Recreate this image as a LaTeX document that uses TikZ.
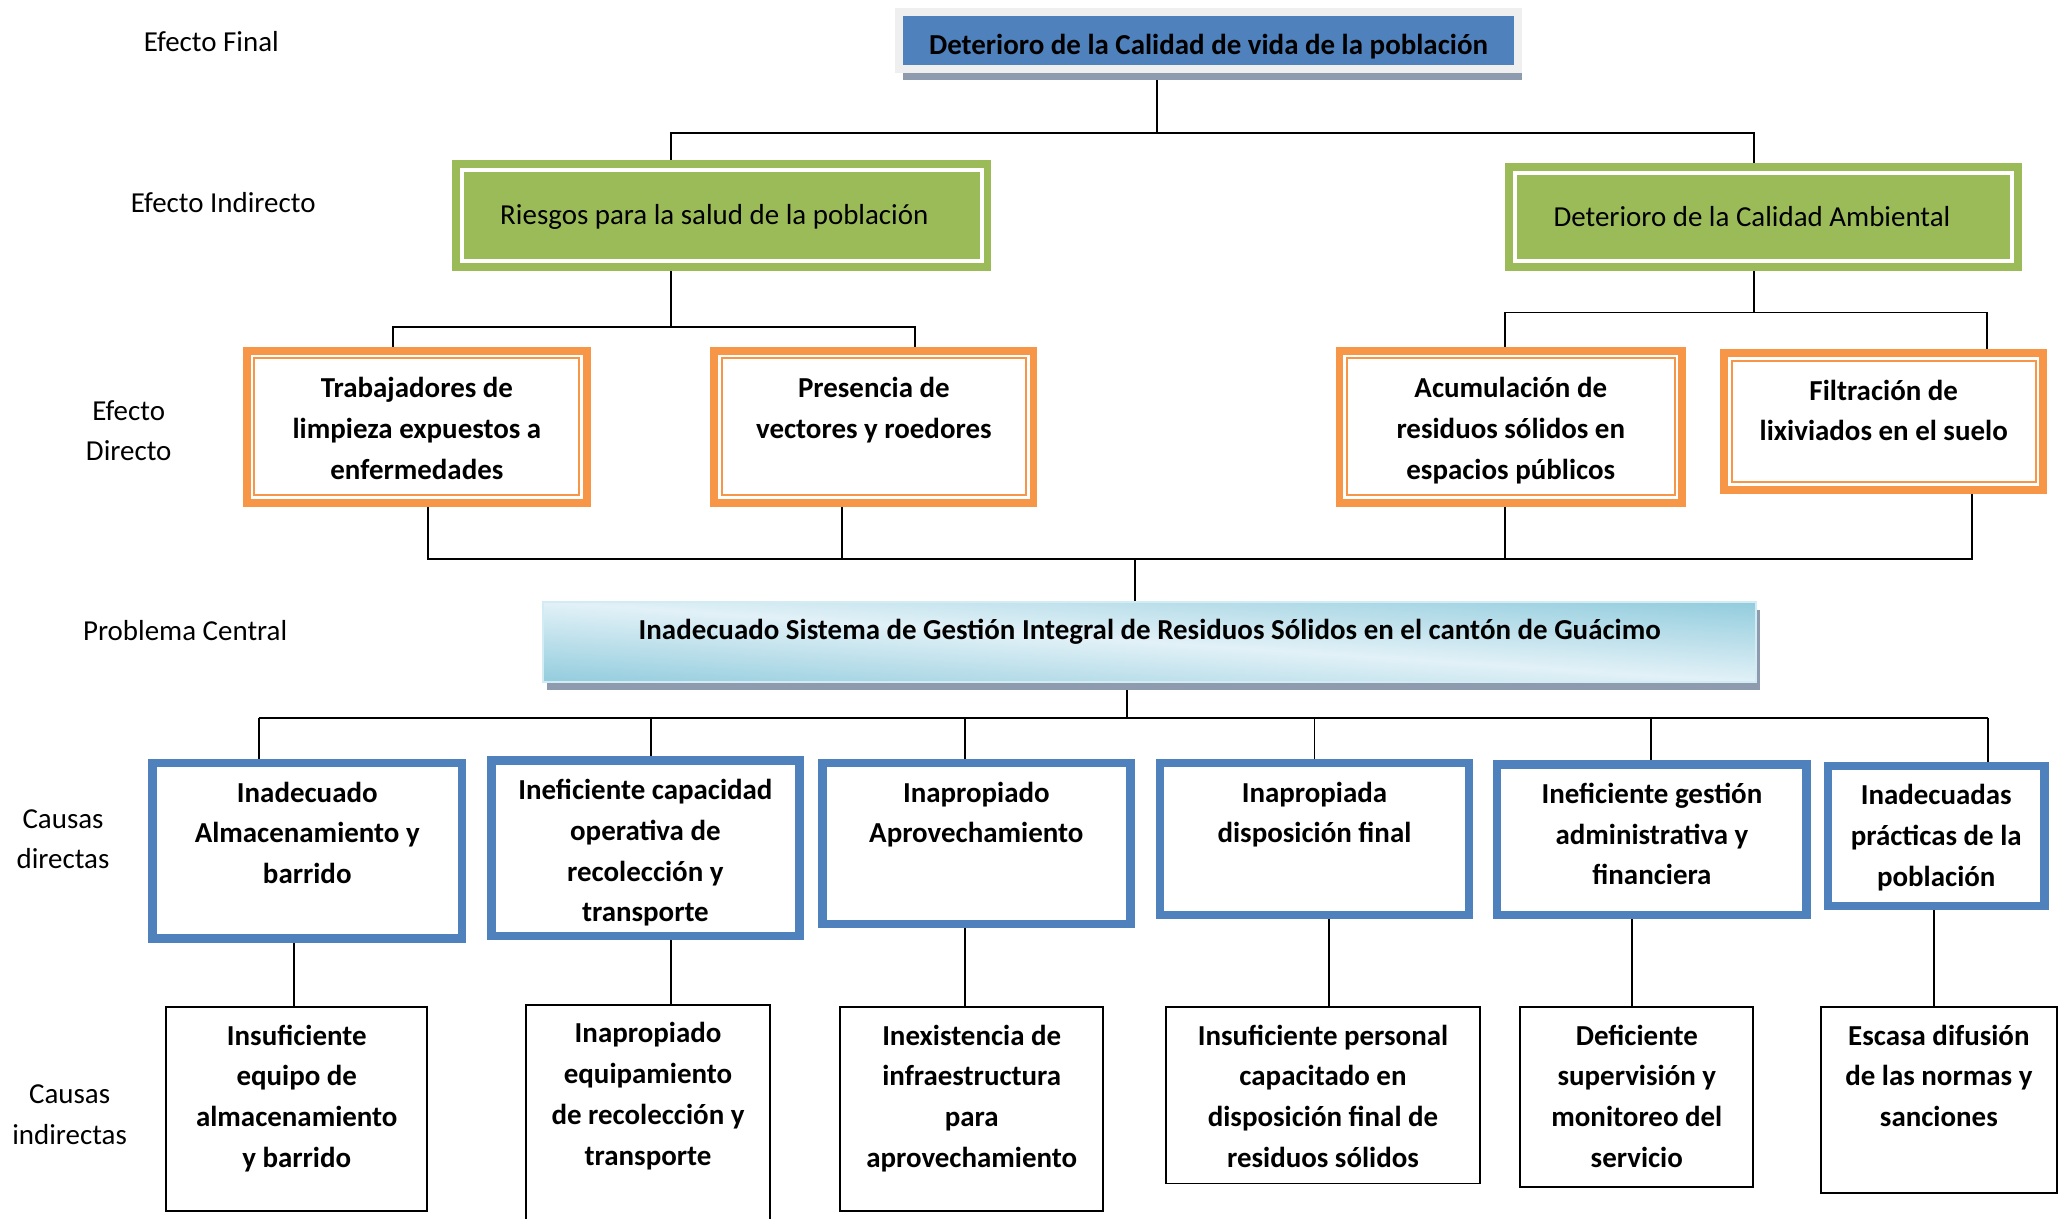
\documentclass[tikz,border=0pt]{standalone}
\usepackage{fontspec}
\setmainfont{Carlito}
\usetikzlibrary{positioning,shadows,backgrounds}

\definecolor{finblue}{HTML}{4F81BD}
\definecolor{frgray}{HTML}{EFEFEF}
\definecolor{shdgray}{HTML}{8E9BAE}
\definecolor{indgreen}{HTML}{9BBB59}
\definecolor{dirorange}{HTML}{F79646}
\definecolor{probedge}{HTML}{D3EBF3}

% light along the top-left/bottom-right diagonal, darker towards the other corners
\pgfdeclarefunctionalshading{probshade}{\pgfpoint{0bp}{0bp}}{\pgfpoint{100bp}{100bp}}{}{
  50 sub 25 div exch 50 sub 25 div add 2 div abs
  dup 1 gt {pop 1} if
  dup -0.313 mul 0.886 add
  exch
  dup -0.145 mul 0.945 add
  exch
  -0.102 mul 0.969 add
}

\newcommand{\pxu}{0.019133cm}

\tikzset{
  every node/.style={font=\fontsize{12}{16.9}\selectfont, inner sep=0pt, outer sep=0pt},
  bsize/.style 2 args={minimum width=#1*\pxu, minimum height=#2*\pxu},
  side/.style={align=center},
  txt/.style={align=center, font=\fontsize{12}{16.9}\selectfont\bfseries, execute at begin node=\strut},
  finbox/.style={fill=finblue, draw=frgray, line width=3.2pt,
    drop shadow={shadow xshift=1.5pt, shadow yshift=-4.6pt, fill=shdgray, opacity=1}},
  indbox/.style={fill=indgreen, draw=indgreen, line width=3.3pt, double=white, double distance=1.6pt},
  dirbox/.style={fill=white, draw=dirorange, line width=0.8pt,
    preaction={draw=dirorange, line width=9.5pt}, preaction={draw=white, line width=3pt}},
  probbox/.style={shade, shading=probshade, draw=probedge, line width=0.8pt,
    drop shadow={shadow xshift=1.6pt, shadow yshift=-3.4pt, fill=shdgray, opacity=1}},
  cdbox/.style={fill=white, draw=finblue, line width=3.5pt},
  cibox/.style={fill=white, draw=black, line width=0.8pt},
  link/.style={draw=black, line width=0.8pt}
}

\begin{document}
\begin{tikzpicture}[x=\pxu, y=-\pxu]
\useasboundingbox (0,0) rectangle (1568,928);

% row titles
\node[side] (lfin) at (161,32) {Efecto Final};
\node[side] (lind) at (170,154) {Efecto Indirecto};
\node[side] (ldir) at (98,328) {Efecto\\Directo};
\node[side] (lprob) at (141,480) {Problema Central};
\node[side] (lcd) at (48,639) {Causas\\directas};
\node[side] (lci) at (53,849) {Causas\\indirectas};

% effects
\node[finbox, bsize={471.5}{43.3}] (fin) at (920.3,30.9) {};
\node[txt, execute at begin node={}, yshift=-2.5pt] (fint) at (fin.center) {Deterioro de la Calidad de vida de la población};
\node[indbox, bsize={396}{69}] (ind1) at (549.5,164) {};
\node[indbox, bsize={379}{67}] (ind2) at (1343,165) {};
\node[side, xshift=-3pt, yshift=-0.5pt] (ind1t) at (ind1.center) {Riesgos para la salud de la población};
\node[side, xshift=-4.8pt] (ind2t) at (ind2.center) {Deterioro de la Calidad Ambiental};

\node[dirbox, bsize={247.5}{104.5}] (dir1) at (317.5,325) {};
\node[dirbox, bsize={231.5}{104.5}] (dir2) at (665.5,325) {};
\node[dirbox, bsize={249.5}{104.5}] (dir3) at (1150.5,325) {};
\node[dirbox, bsize={231.5}{92.5}] (dir4) at (1434.5,321) {};
\node[txt, below=7.9pt of dir1.north] (dir1t) {Trabajadores de\\limpieza expuestos a\\enfermedades};
\node[txt, below=7.9pt of dir2.north] (dir2t) {Presencia de\\vectores y roedores};
\node[txt, below=7.9pt of dir3.north] (dir3t) {Acumulación de\\residuos sólidos en\\espacios públicos};
\node[txt, below=7.9pt of dir4.north] (dir4t) {Filtración de\\lixiviados en el suelo};

% central problem
\node[probbox, bsize={924}{61}] (prob) at (875.5,489) {};
\node[txt, below=3.6pt of prob.north] (probt) {Inadecuado Sistema de Gestión Integral de Residuos Sólidos en el cantón de Guácimo};

% direct causes
\node[cdbox, bsize={235.6}{133.6}] (cd1) at (234,648) {};
\node[cdbox, bsize={234.6}{133.6}] (cd2) at (491.5,646) {};
\node[cdbox, bsize={234.6}{122.6}] (cd3) at (743.5,642.5) {};
\node[cdbox, bsize={235.6}{115.6}] (cd4) at (1001,639) {};
\node[cdbox, bsize={235.6}{114.6}] (cd5) at (1258,639.5) {};
\node[cdbox, bsize={164.6}{106.6}] (cd6) at (1474.5,636.5) {};
\node[txt, below=7.7pt of cd1.north] (cd1t) {Inadecuado\\Almacenamiento y\\barrido};
\node[txt, below=7.7pt of cd2.north] (cd2t) {Ineficiente capacidad\\operativa de\\recolección y\\transporte};
\node[txt, below=7.7pt of cd3.north] (cd3t) {Inapropiado\\Aprovechamiento};
\node[txt, below=7.7pt of cd4.north] (cd4t) {Inapropiada\\disposición final};
\node[txt, below=7.7pt of cd5.north] (cd5t) {Ineficiente gestión\\administrativa y\\financiera};
\node[txt, below=7.7pt of cd6.north] (cd6t) {Inadecuadas\\prácticas de la\\población};

% indirect causes
\node[cibox, bsize={198.5}{155.5}] (ci1) at (226,844.5) {};
\node[cibox, bsize={185.5}{170}] (ci2) at (493.5,850) {};
\node[cibox, bsize={200.5}{155.5}] (ci3) at (740,844.5) {};
\node[cibox, bsize={239.5}{134.5}] (ci4) at (1007.5,834) {};
\node[cibox, bsize={177.5}{137.5}] (ci5) at (1246.5,835.5) {};
\node[cibox, bsize={179.5}{141.5}] (ci6) at (1476.5,837.5) {};
\node[txt, below=7.4pt of ci1.north] (ci1t) {Insuficiente\\equipo de\\almacenamiento\\y barrido};
\node[txt, below=7.4pt of ci2.north] (ci2t) {Inapropiado\\equipamiento\\de recolección y\\transporte};
\node[txt, below=7.4pt of ci3.north] (ci3t) {Inexistencia de\\infraestructura\\para\\aprovechamiento};
\node[txt, below=7.4pt of ci4.north] (ci4t) {Insuficiente personal\\capacitado en\\disposición final de\\residuos sólidos};
\node[txt, below=7.4pt of ci5.north] (ci5t) {Deficiente\\supervisión y\\monitoreo del\\servicio};
\node[txt, below=7.4pt of ci6.north] (ci6t) {Escasa difusión\\de las normas y\\sanciones};

% junctions of the connector bars
\coordinate (j1) at (881,101);
\coordinate (j1a) at (511,101);
\coordinate (j1b) at (1336,101);
\coordinate (j2) at (511,249);
\coordinate (j2a) at (299,249);
\coordinate (j2b) at (697,249);
\coordinate (j3) at (1336,238);
\coordinate (j3a) at (1146,238);
\coordinate (j3b) at (1513,238);
\coordinate (j4) at (864,426);
\coordinate (j4a) at (326,426);
\coordinate (j4b) at (641,426);
\coordinate (j4c) at (1146,426);
\coordinate (j4d) at (1502,426);
\coordinate (j5) at (858,547);
\coordinate (j5a) at (197,547);
\coordinate (j5b) at (496,547);
\coordinate (j5c) at (735,547);
\coordinate (j5d) at (1001,547);
\coordinate (j5e) at (1257,547);
\coordinate (j5f) at (1514,547);

\begin{scope}[on background layer]
 \draw[link] (fin.south -| j1) -- (j1);
 \draw[link] (ind1.north -| j1a) -- (j1a) -- (j1b) -- (ind2.north -| j1b);
 \draw[link] (ind1.south -| j2) -- (j2);
 \draw[link] (dir1.north -| j2a) -- (j2a) -- (j2b) -- (dir2.north -| j2b);
 \draw[link] (ind2.south -| j3) -- (j3);
 \draw[link] (dir3.north -| j3a) -- (j3a) -- (j3b) -- (dir4.north -| j3b);
 \draw[link] (dir1.south -| j4a) -- (j4a) -- (j4d) -- (dir4.south -| j4d);
 \draw[link] (dir2.south -| j4b) -- (j4b);
 \draw[link] (dir3.south -| j4c) -- (j4c);
 \draw[link] (j4) -- (prob.north -| j4);
 \draw[link] (prob.south -| j5) -- (j5);
 \draw[link] (j5a) -- (j5f);
 \foreach \i/\j in {1/a,2/b,3/c,4/d,5/e,6/f}
   \draw[link] (j5\j) -- (cd\i.north -| j5\j);
 \foreach \i/\x in {1/224,2/511,3/735,4/1012,5/1243,6/1473}
   \draw[link] (cd\i.south -| \x,0) -- (ci\i.north -| \x,0);
\end{scope}
\end{tikzpicture}
\end{document}
